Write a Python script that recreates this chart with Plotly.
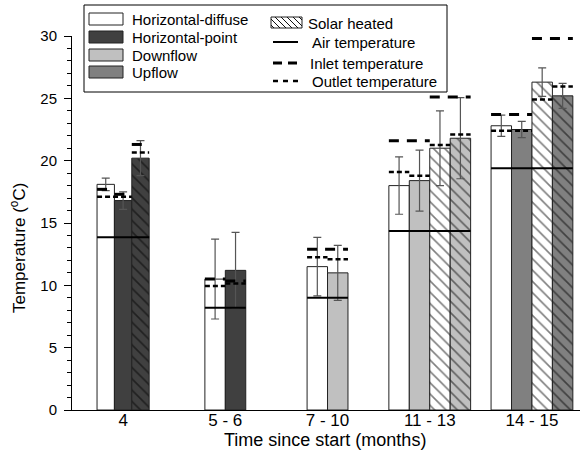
import plotly.graph_objects as go

# ---------------------------------------------------------------- data
categories = ["4", "5 - 6", "7 - 10", "11 - 13", "14 - 15"]

# mean compost temperature per treatment (None = treatment not running)
h_diffuse = [18.1, 10.5, 11.5, 18.0, 22.8]
h_diffuse_err = [0.5, 3.2, 2.35, 2.3, 0.85]
h_point = [16.8, 11.2, None, None, None]
h_point_err = [0.7, 3.05, None, None, None]
downflow = [None, None, 11.0, 18.4, None]
downflow_err = [None, None, 2.2, 2.45, None]
upflow = [None, None, None, None, 22.5]
upflow_err = [None, None, None, None, 0.65]
solar_diffuse = [None, None, None, 21.0, 26.3]
solar_diffuse_err = [None, None, None, 3.0, 1.15]
solar_point = [20.2, None, None, None, None]
solar_point_err = [1.4, None, None, None, None]
solar_downflow = [None, None, None, 21.8, None]
solar_downflow_err = [None, None, None, 3.25, None]
solar_upflow = [None, None, None, None, 25.2]
solar_upflow_err = [None, None, None, None, 1.0]

# ambient air temperature per period
air_temp = [13.85, 8.2, 9.0, 14.35, 19.4]

# inlet / outlet air temperatures per treatment
inlet_h_diffuse = [17.7, 10.5, 12.9, 21.6, 23.7]
outlet_h_diffuse = [17.1, 9.95, 12.25, 19.1, 22.4]
inlet_h_point = [17.3, 10.35, None, None, None]
outlet_h_point = [17.1, 10.15, None, None, None]
inlet_downflow = [None, None, 12.9, 21.6, None]
outlet_downflow = [None, None, 12.1, 18.8, None]
inlet_upflow = [None, None, None, None, 23.7]
outlet_upflow = [None, None, None, None, 22.4]
inlet_solar_diffuse = [None, None, None, 25.1, 29.8]
outlet_solar_diffuse = [None, None, None, 21.25, 24.9]
inlet_solar_point = [21.3, None, None, None, None]
outlet_solar_point = [20.65, None, None, None, None]
inlet_solar_downflow = [None, None, None, 25.1, None]
outlet_solar_downflow = [None, None, None, 22.1, None]
inlet_solar_upflow = [None, None, None, None, 29.8]
outlet_solar_upflow = [None, None, None, None, 25.95]

# ---------------------------------------------------------------- styling
WHITE, DARK, LIGHT, MID = "#ffffff", "#404040", "#c0c0c0", "#808080"
FONT = "Arial, Liberation Sans, sans-serif"

series = [
    dict(y=h_diffuse, err=h_diffuse_err, inlet=inlet_h_diffuse, outlet=outlet_h_diffuse, color=WHITE, hatch=False),
    dict(y=h_point, err=h_point_err, inlet=inlet_h_point, outlet=outlet_h_point, color=DARK, hatch=False),
    dict(y=downflow, err=downflow_err, inlet=inlet_downflow, outlet=outlet_downflow, color=LIGHT, hatch=False),
    dict(y=upflow, err=upflow_err, inlet=inlet_upflow, outlet=outlet_upflow, color=MID, hatch=False),
    dict(y=solar_diffuse, err=solar_diffuse_err, inlet=inlet_solar_diffuse, outlet=outlet_solar_diffuse, color=WHITE, hatch=True),
    dict(y=solar_point, err=solar_point_err, inlet=inlet_solar_point, outlet=outlet_solar_point, color=DARK, hatch=True),
    dict(y=solar_downflow, err=solar_downflow_err, inlet=inlet_solar_downflow, outlet=outlet_solar_downflow, color=LIGHT, hatch=True),
    dict(y=solar_upflow, err=solar_upflow_err, inlet=inlet_solar_upflow, outlet=outlet_solar_upflow, color=MID, hatch=True),
]

bar_w = [0.17, 0.2, 0.2, 0.2, 0.2]

W, H = 580, 453
ML, MR, MT, MB = 72, 0, 36, 43
PW, PH = W - ML - MR, H - MT - MB


def px_x(p):
    return (p - ML) / PW


def px_y(p):
    return (H - MB - p) / PH


# bar centre / width for every (series, period) present
pos = {}
order = {}
for i in range(len(categories)):
    present = [k for k, s in enumerate(series) if s["y"][i] is not None]
    order[i] = present
    n = len(present)
    for slot, k in enumerate(present):
        pos[(k, i)] = ((i + 1) + (slot - (n - 1) / 2) * bar_w[i], bar_w[i])

fig = go.Figure()

for k, s in enumerate(series):
    idx = [i for i in range(len(categories)) if s["y"][i] is not None]
    fig.add_trace(go.Bar(
        x=[pos[(k, i)][0] for i in idx],
        y=[s["y"][i] for i in idx],
        width=[pos[(k, i)][1] for i in idx],
        marker=dict(
            color=s["color"],
            line=dict(color="#222222", width=1),
            pattern=dict(shape="\\" if s["hatch"] else "", fgcolor="#000000",
                         bgcolor=s["color"], size=8, solidity=0.2),
        ),
        error_y=dict(type="data", array=[s["err"][i] for i in idx],
                     color="#555555", thickness=1.2, width=4),
        showlegend=False, hoverinfo="skip",
    ))


def segments(key):
    xs, ys = [], []
    for i in range(len(categories)):
        cur = None
        for k in order[i]:
            v = series[k][key][i]
            x, w = pos[(k, i)]
            left, right = x - w / 2, x + w / 2
            if cur is not None and abs(cur[2] - v) < 1e-9 and abs(cur[1] - left) < 1e-6:
                cur[1] = right
            else:
                if cur is not None:
                    xs += [cur[0], cur[1], None]
                    ys += [cur[2], cur[2], None]
                cur = [left, right, v]
        if cur is not None:
            xs += [cur[0], cur[1], None]
            ys += [cur[2], cur[2], None]
    return xs, ys


# air temperature across each whole period
ax, ay = [], []
for i in range(len(categories)):
    edges = [(pos[(k, i)][0] - pos[(k, i)][1] / 2, pos[(k, i)][0] + pos[(k, i)][1] / 2) for k in order[i]]
    ax += [min(e[0] for e in edges), max(e[1] for e in edges), None]
    ay += [air_temp[i], air_temp[i], None]
fig.add_trace(go.Scatter(x=ax, y=ay, mode="lines", line=dict(color="black", width=2),
                         showlegend=False, hoverinfo="skip"))

ix, iy = segments("inlet")
fig.add_trace(go.Scatter(x=ix, y=iy, mode="lines", line=dict(color="black", width=3, dash="10px,8px"),
                         showlegend=False, hoverinfo="skip"))
ox, oy = segments("outlet")
fig.add_trace(go.Scatter(x=ox, y=oy, mode="lines", line=dict(color="black", width=2.5, dash="5px,3px"),
                         showlegend=False, hoverinfo="skip"))

# ---------------------------------------------------------------- legend
shapes = []
annotations = []

shapes.append(dict(type="rect", xref="paper", yref="paper",
                   x0=px_x(84), x1=px_x(447), y0=px_y(92), y1=px_y(5),
                   line=dict(color="black", width=1), fillcolor="white", layer="above"))

swatches = [
    ("Horizontal-diffuse", WHITE, 13, 25),
    ("Horizontal-point", DARK, 31, 43),
    ("Downflow", LIGHT, 49, 61),
    ("Upflow", MID, 66, 78),
]
for label, col, t, b in swatches:
    shapes.append(dict(type="rect", xref="paper", yref="paper",
                       x0=px_x(89), x1=px_x(123), y0=px_y(b), y1=px_y(t),
                       line=dict(color="#222222", width=1), fillcolor=col, layer="above"))
    annotations.append(dict(text=label, x=px_x(130), y=px_y((t + b) / 2 + 0.5), xref="paper", yref="paper",
                            xanchor="left", yanchor="middle", showarrow=False,
                            font=dict(size=15, color="black", family=FONT)))

# hatched swatch
sx0, sx1, st, sb = 271, 302, 17, 28
shapes.append(dict(type="rect", xref="paper", yref="paper",
                   x0=px_x(sx0), x1=px_x(sx1), y0=px_y(sb), y1=px_y(st),
                   line=dict(color="#222222", width=1), fillcolor="white", layer="above"))
h = sb - st
t = sx0 - h + 3
while t < sx1:
    xa, ya = t, st
    xb, yb = t + h, sb
    if xa < sx0:
        ya = st + (sx0 - xa)
        xa = sx0
    if xb > sx1:
        yb = sb - (xb - sx1)
        xb = sx1
    if xb > xa:
        shapes.append(dict(type="line", xref="paper", yref="paper",
                           x0=px_x(xa), x1=px_x(xb), y0=px_y(ya), y1=px_y(yb),
                           line=dict(color="#111111", width=1), layer="above"))
    t += 6
annotations.append(dict(text="Solar heated", x=px_x(306), y=px_y(23), xref="paper", yref="paper",
                        xanchor="left", yanchor="middle", showarrow=False,
                        font=dict(size=15, color="black", family=FONT)))

line_keys = [
    ("Air temperature", "solid", 2, 42, 310),
    ("Inlet temperature", "9px,6px", 3, 63, 308),
    ("Outlet temperature", "5px,5px", 2.5, 81, 310),
]
for label, dash, lw, yy, tx in line_keys:
    shapes.append(dict(type="line", xref="paper", yref="paper",
                       x0=px_x(273), x1=px_x(298), y0=px_y(yy), y1=px_y(yy),
                       line=dict(color="black", width=lw, dash=dash), layer="above"))
    annotations.append(dict(text=label, x=px_x(tx), y=px_y(yy + 0.5), xref="paper", yref="paper",
                            xanchor="left", yanchor="middle", showarrow=False,
                            font=dict(size=15, color="black", family=FONT)))

# axis titles
annotations.append(dict(text="Time since start (months)", x=px_x(325), y=px_y(440),
                        xref="paper", yref="paper", xanchor="center", yanchor="middle",
                        showarrow=False, font=dict(size=18, color="black", family=FONT)))
annotations.append(dict(text="Temperature (<sup>o</sup>C)", x=px_x(18), y=px_y(248),
                        xref="paper", yref="paper", xanchor="center", yanchor="middle",
                        textangle=-90, showarrow=False,
                        font=dict(size=17, color="black", family=FONT)))

fig.update_layout(
    width=W, height=H,
    margin=dict(l=ML, r=MR, t=MT, b=MB, pad=0),
    barmode="overlay",
    plot_bgcolor="white", paper_bgcolor="white",
    font=dict(family=FONT, color="black"),
    shapes=shapes, annotations=annotations,
    xaxis=dict(range=[0.5, 5.47], tickmode="array", tickvals=[1, 2, 3, 4, 5], ticktext=categories,
               showline=True, linecolor="black", linewidth=1, ticks="", showgrid=False,
               zeroline=False, ticklabelstandoff=-5,
               tickfont=dict(size=17, family=FONT, color="black")),
    yaxis=dict(range=[0, 30], tickmode="linear", tick0=0, dtick=5, ticks="outside", ticklen=7,
               tickcolor="black", showline=True, linecolor="black", linewidth=1,
               showgrid=False, zeroline=False, ticklabelstandoff=4,
               minor=dict(dtick=1, ticks="outside", ticklen=4, tickcolor="black"),
               tickfont=dict(size=15, family=FONT, color="black")),
)

fig.write_html("out.html")
